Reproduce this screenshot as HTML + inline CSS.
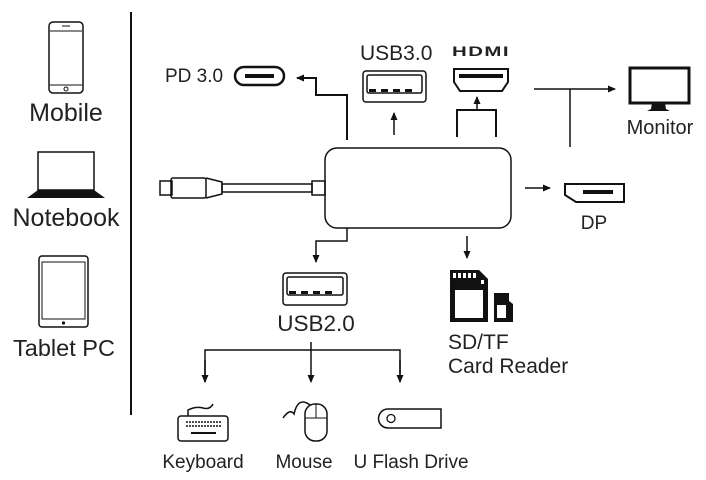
<!DOCTYPE html>
<html><head><meta charset="utf-8"><style>
html,body{margin:0;padding:0;background:#fff;}
svg{display:block;}
text{font-family:"Liberation Sans",sans-serif;fill:#222;}
</style></head><body>
<svg width="706" height="480" viewBox="0 0 706 480" xmlns="http://www.w3.org/2000/svg">
<defs>
<marker id="ah" markerWidth="8" markerHeight="8" refX="7" refY="4" orient="auto" markerUnits="userSpaceOnUse">
<path d="M0,0.5 L8,4 L0,7.5 Z" fill="#111"/>
</marker>
</defs>
<g stroke="#111" fill="none">
<line x1="131" y1="12" x2="131" y2="415" stroke-width="2"/>
<rect x="49" y="22" width="34" height="71" rx="4" stroke-width="1.5"/>
<line x1="50" y1="31" x2="82" y2="31" stroke-width="1"/>
<line x1="50" y1="85" x2="82" y2="85" stroke-width="1"/>
<circle cx="66" cy="89" r="2" stroke-width="1"/>
<line x1="62" y1="26" x2="70" y2="26" stroke-width="1"/>
<rect x="38" y="152" width="56" height="38" stroke-width="1.5"/>
<path d="M38,190 L94,190 L105,198 L27,198 Z" fill="#111" stroke="none"/>
<rect x="39" y="256" width="49" height="71" rx="3" stroke-width="1.5"/>
<rect x="42" y="262" width="43" height="57" stroke-width="1"/>
<circle cx="63.5" cy="323" r="1.6" fill="#111" stroke="none"/>
<rect x="160" y="181" width="12" height="14" stroke-width="1.5"/>
<rect x="171" y="178" width="35" height="20" rx="2" stroke-width="1.5"/>
<path d="M206,178 L222,182 L222,194 L206,198" stroke-width="1.5"/>
<rect x="222" y="184" width="90" height="8" stroke-width="1.5"/>
<rect x="312" y="181" width="13" height="14" stroke-width="1.5"/>
<rect x="325" y="148" width="186" height="80" rx="12" stroke-width="1.5"/>
<polyline points="347,140 347,95 316,95 316,78 297,78" stroke-width="2" marker-end="url(#ah)"/>
<rect x="235" y="67" width="49" height="18" rx="9" stroke-width="2.5"/>
<line x1="245" y1="76" x2="274" y2="76" stroke-width="4"/>
<rect x="363" y="71" width="63" height="31" rx="3" stroke-width="1.5"/>
<rect x="367" y="75" width="55" height="18" rx="2" stroke-width="1.5"/>
<line x1="394" y1="135" x2="394" y2="113" stroke-width="1.5" marker-end="url(#ah)"/>
<path d="M454,69 L508,69 L508,82 L502,91 L460,91 L454,82 Z" stroke-width="2"/>
<polyline points="457,137 457,110 496,110 496,137" stroke-width="2"/>
<line x1="477" y1="110" x2="477" y2="97" stroke-width="1.5" marker-end="url(#ah)"/>
<line x1="534" y1="89" x2="615" y2="89" stroke-width="1.5" marker-end="url(#ah)"/>
<line x1="570" y1="89" x2="570" y2="147" stroke-width="1.5"/>
<rect x="630" y="68" width="59" height="35" stroke-width="3"/>
<path d="M652,103 L665,103 L666,109 L670,111 L647,111 L651,109 Z" fill="#111" stroke="none"/>
<line x1="525" y1="188" x2="550" y2="188" stroke-width="1.5" marker-end="url(#ah)"/>
<path d="M565,184 L624,184 L624,202 L576,202 L565,195 Z" stroke-width="2"/>
<polyline points="347,228 347,241 316,241 316,262" stroke-width="1.5" marker-end="url(#ah)"/>
<rect x="283" y="273" width="64" height="32" rx="3" stroke-width="1.5"/>
<rect x="287" y="277" width="56" height="18" rx="2" stroke-width="1.5"/>
<line x1="467" y1="236" x2="467" y2="258" stroke-width="1.5" marker-end="url(#ah)"/>
<line x1="311" y1="342" x2="311" y2="382" stroke-width="1.5" marker-end="url(#ah)"/>
<polyline points="205,382 205,350 400,350 400,382" stroke-width="1.5"/>
<line x1="205" y1="360" x2="205" y2="382" stroke-width="1.5" marker-end="url(#ah)"/>
<line x1="400" y1="360" x2="400" y2="382" stroke-width="1.5" marker-end="url(#ah)"/>
<rect x="178" y="416" width="50" height="25" rx="3" stroke-width="1.5"/>
<path d="M188,416 L188,410 Q196,406 203,408 Q210,410 213,404" stroke-width="1.5"/>
<line x1="186" y1="422" x2="221" y2="422" stroke-width="1.5" stroke-dasharray="2,1"/>
<line x1="186" y1="426" x2="221" y2="426" stroke-width="1.5" stroke-dasharray="2,1"/>
<line x1="191" y1="433" x2="216" y2="433" stroke-width="2"/>
<rect x="305" y="404" width="22" height="37" rx="10" stroke-width="1.5"/>
<line x1="305" y1="418" x2="327" y2="418" stroke-width="1"/>
<line x1="316" y1="404" x2="316" y2="418" stroke-width="1"/>
<path d="M283,418 Q290,408 294,414 Q298,396 310,405" stroke-width="1.5"/>
<path d="M388,409 L441,409 L441,428 L388,428 A9.5,9.5 0 0 1 388,409 Z" stroke-width="1.5"/>
<circle cx="391" cy="418.5" r="4" stroke-width="1.3"/>
</g>
<path d="M450,270 L479,270 L488,279 L488,322 L450,322 Z" fill="#111"/>
<rect x="455" y="290" width="28" height="28" fill="#fff"/>
<g fill="#fff"><rect x="453" y="273" width="3" height="5"/><rect x="458" y="273" width="3" height="5"/><rect x="463" y="273" width="3" height="5"/><rect x="468" y="273" width="3" height="5"/><rect x="473" y="273" width="3" height="5"/><rect x="481" y="280" width="3" height="4"/></g>
<path d="M494,293 L509,293 L509,301 L513,304 L513,322 L494,322 Z" fill="#111"/>
<rect x="497" y="305" width="9" height="13" fill="#fff"/>
<rect x="459" y="74" width="44" height="4" fill="#111"/>
<g fill="#111">
<rect x="369" y="89" width="7" height="3"/><rect x="381" y="89" width="7" height="3"/><rect x="393" y="89" width="7" height="3"/><rect x="405" y="89" width="7" height="3"/>
<rect x="289" y="291" width="7" height="3"/><rect x="301" y="291" width="7" height="3"/><rect x="313" y="291" width="7" height="3"/><rect x="325" y="291" width="7" height="3"/>
<rect x="583" y="190" width="30" height="4"/>
</g>
<text x="66" y="121" font-size="25" text-anchor="middle">Mobile</text>
<text x="66" y="226" font-size="25" text-anchor="middle">Notebook</text>
<text x="64" y="356" font-size="23.5" text-anchor="middle">Tablet PC</text>
<text x="165" y="82" font-size="19">PD 3.0</text>
<text x="360" y="60" font-size="21">USB3.0</text>
<text x="452" y="56" font-size="14" font-weight="bold" letter-spacing="1" textLength="58" lengthAdjust="spacingAndGlyphs">HDMI</text>
<text x="660" y="134" font-size="20" text-anchor="middle">Monitor</text>
<text x="594" y="229" font-size="19" text-anchor="middle">DP</text>
<text x="316" y="331" font-size="22.5" text-anchor="middle">USB2.0</text>
<text x="448" y="349" font-size="21">SD/TF</text>
<text x="448" y="373" font-size="21">Card Reader</text>
<text x="203" y="468" font-size="19" text-anchor="middle">Keyboard</text>
<text x="304" y="468" font-size="19" text-anchor="middle">Mouse</text>
<text x="411" y="468" font-size="19" text-anchor="middle">U Flash Drive</text>
</svg>
</body></html>
